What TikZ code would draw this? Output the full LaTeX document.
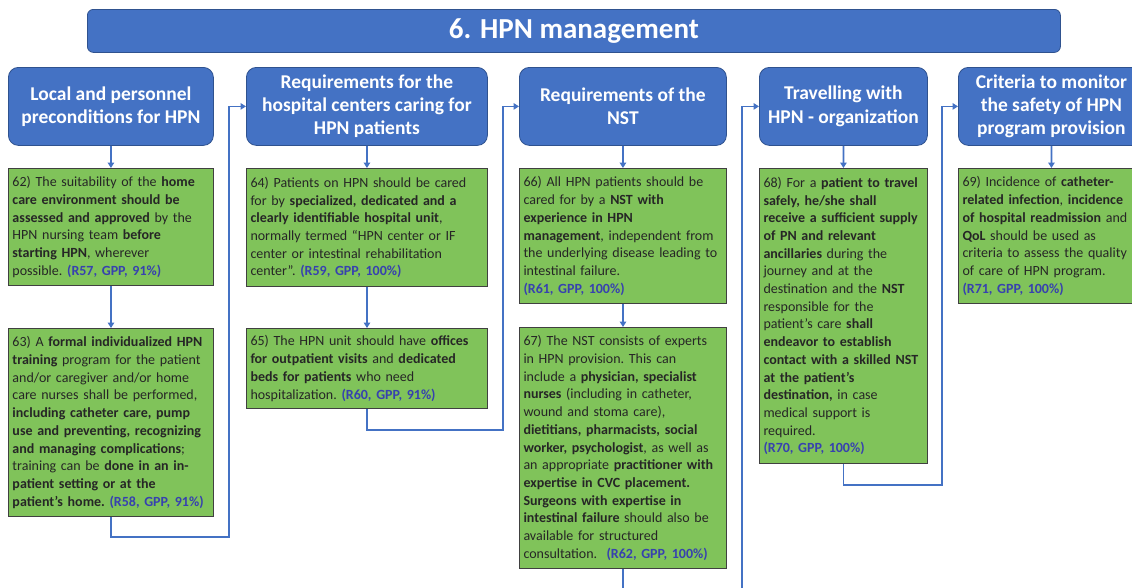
\documentclass[tikz,border=0pt]{standalone}
\usepackage{fontspec}
\setmainfont{Carlito}
\usetikzlibrary{arrows.meta}
\definecolor{hpnblue}{RGB}{68,114,196}
\definecolor{hpnedge}{RGB}{47,82,143}
\definecolor{recgreen}{RGB}{128,195,90}
\definecolor{refblue}{RGB}{55,65,175}
\newcommand{\rnote}[1]{\textcolor{refblue}{\textbf{#1}}}
\newcommand{\bodyfont}{\fontsize{14}{17.7}\selectfont\frenchspacing}
\newcommand{\headfont}{\fontsize{19.5}{23.2}\selectfont\bfseries}
\tikzset{
	head/.style={rectangle, rounded corners=10pt, draw=hpnedge, line width=0.8pt, fill=hpnblue, text=white, font=\headfont, align=center, anchor=north west, inner sep=0pt},
	rec/.style={rectangle, draw=black!75, line width=1pt, fill=recgreen, text=black!85, font=\bodyfont, align=left, anchor=north west, inner xsep=4pt, inner ysep=0pt},
	link/.style={draw=hpnblue, line width=1.8pt, -{Triangle[width=6.5pt,length=5.5pt]}},
}

\begin{document}
\begin{tikzpicture}[x=1pt, y=-1pt]
			%%%%% START %%%%%
			\useasboundingbox (0, 0) rectangle (1132, 587);
			\clip (0, 0) rectangle (1132, 587);
			
			\node[head, rounded corners=6pt, minimum width=973pt, minimum height=43pt, font=\fontsize{29}{33}\selectfont\bfseries] (title) at (87, 9) {6. HPN management};
			
			% column headers
			\node[head, minimum width=205pt, minimum height=78pt] (h1) at (8, 67) {Local and personnel\\preconditions for HPN};
			\node[head, minimum width=241pt, minimum height=78pt] (h2) at (246, 67) {Requirements for the\\hospital centers caring for\\HPN patients};
			\node[head, minimum width=207pt, minimum height=78pt] (h3) at (519, 67) {Requirements of the\\NST};
			\node[head, minimum width=168pt, minimum height=78pt] (h4) at (759, 67) {Travelling with\\HPN - organization};
			\node[head, minimum width=186pt, minimum height=78pt] (h5) at (958, 67) {Criteria to monitor\\the safety of HPN\\program provision};
			
			% recommendations
			\node[rec, text width=197pt, minimum height=117pt] (b62) at (8, 168) {62) The suitability of the \textbf{home}\\\textbf{care environment should be}\\\textbf{assessed and approved} by the\\HPN nursing team \textbf{before}\\\textbf{starting HPN}, wherever\\possible. \rnote{(R57, GPP, 91\%)}};
			\node[rec, text width=197pt, minimum height=188pt] (b63) at (8, 328) {63) A \textbf{formal individualized HPN}\\\textbf{training} program for the patient\\and/or caregiver and/or home\\care nurses shall be performed,\\\textbf{including catheter care, pump}\\\textbf{use and preventing, recognizing}\\\textbf{and managing complications};\\training can be \textbf{done in an in-}\\\textbf{patient setting or at the}\\\textbf{patient’s home.} \rnote{(R58, GPP, 91\%)}};
			
			\node[rec, text width=233pt, minimum height=118pt] (b64) at (246, 168) {64) Patients on HPN should be cared\\for by \textbf{specialized, dedicated and a}\\\textbf{clearly identifiable hospital unit},\\normally termed “HPN center or IF\\center or intestinal rehabilitation\\center”. \rnote{(R59, GPP, 100\%)}};
			\node[rec, text width=233pt, minimum height=80pt] (b65) at (246, 328) {65) The HPN unit should have \textbf{offices}\\\textbf{for outpatient visits} and \textbf{dedicated}\\\textbf{beds for patients} who need\\hospitalization. \rnote{(R60, GPP, 91\%)}};
			
			\node[rec, text width=199pt, minimum height=135pt] (b66) at (519, 168) {66) All HPN patients should be\\cared for by a \textbf{NST with}\\\textbf{experience in HPN}\\\textbf{management}, independent from\\the underlying disease leading to\\intestinal failure.\\\rnote{(R61, GPP, 100\%)}};
			\node[rec, text width=199pt, minimum height=241pt] (b67) at (519, 327) {67) The NST consists of experts\\in HPN provision. This can\\include a \textbf{physician, specialist}\\\textbf{nurses} (including in catheter,\\wound and stoma care),\\\textbf{dietitians, pharmacists, social}\\\textbf{worker, psychologist}, as well as\\an appropriate \textbf{practitioner with}\\\textbf{expertise in CVC placement.}\\\textbf{Surgeons with expertise in}\\\textbf{intestinal failure} should also be\\available for structured\\consultation. \ \rnote{(R62, GPP, 100\%)}};
			
			\node[rec, text width=160pt, minimum height=295pt] (b68) at (759, 168) {68) For a \textbf{patient to travel}\\\textbf{safely, he/she shall}\\\textbf{receive a sufficient supply}\\\textbf{of PN and relevant}\\\textbf{ancillaries} during the\\journey and at the\\destination and the \textbf{NST}\\responsible for the\\patient’s care \textbf{shall}\\\textbf{endeavor to establish}\\\textbf{contact with a skilled NST}\\\textbf{at the patient’s}\\\textbf{destination,} in case\\medical support is\\required.\\\rnote{(R70, GPP, 100\%)}};
			
			\node[rec, text width=178pt, minimum height=135pt] (b69) at (958, 168) {69) Incidence of \textbf{catheter-}\\\textbf{related infection}, \textbf{incidence}\\\textbf{of hospital readmission} and\\\textbf{QoL} should be used as\\criteria to assess the quality\\of care of HPN program.\\\rnote{(R71, GPP, 100\%)}};
			
			% turning points
			\coordinate (t1) at (229, 537);
			\coordinate (t2) at (503, 430);
			\coordinate (t3) at (742, 600);
			\coordinate (t4) at (942, 485);
			
			\draw[link] (h1) -- (b62);
			\draw[link] (b62) -- (b63);
			\draw[link] (b63.south) |- (t1) |- (h2.west);
			
			\draw[link] (h2) -- (b64);
			\draw[link] (b64) -- (b65);
			\draw[link] (b65.south) |- (t2) |- (h3.west);
			
			\draw[link] (h3) -- (b66);
			\draw[link] (b66) -- (b67);
			\draw[link] (b67.south) |- (t3) |- (h4.west);
			
			\draw[link] (h4) -- (b68);
			\draw[link] (b68.south) |- (t4) |- (h5.west);
			
			\draw[link] (h5) -- (b69);
			
			%%%%% END %%%%%
\end{tikzpicture}
\end{document}
